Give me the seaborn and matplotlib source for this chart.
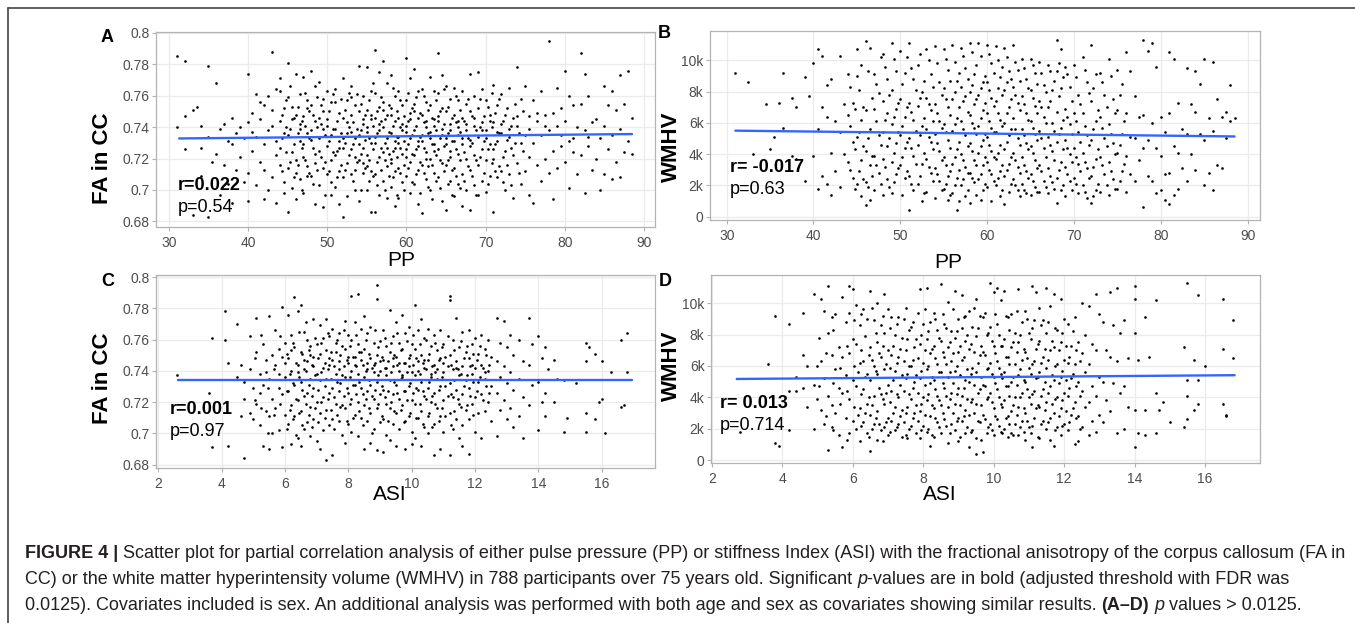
import matplotlib
matplotlib.use("Agg")
import matplotlib.pyplot as plt
from matplotlib.lines import Line2D
import pandas as pd
import seaborn as sns

# ---------------- data ----------------
# Panel A: FA in CC by pulse pressure (PP)
fa_a_by_pp = {
    31: [.740, .785], 32: [.782, .747, .726], 33: [.751, .684], 33.5: [.753],
    34: [.727, .709, .741], 35: [.779, .734, .683], 35.5: [.718],
    36: [.768, .723], 36.5: [.739, .697], 37: [.742, .716], 37.5: [.731, .704],
    38: [.746, .729, .692], 38.5: [.713, .736], 39: [.740, .721], 39.5: [.733, .705],
    40: [.774, .743, .711, .693], 40.5: [.737, .725, .749],
    41: [.761, .734, .703], 41.5: [.756, .718, .745],
    42: [.754, .713, .729, .694], 42.5: [.738, .700, .760],
    43: [.788, .741, .708, .751], 43.5: [.764, .722, .692, .731],
    44: [.763, .744, .716, .727, .771], 44.5: [.752, .736, .698, .705],
    45: [.781, .735, .714, .686, .759], 45.5: [.753, .724, .701, .745],
    46: [.774, .748, .719, .694, .711], 46.5: [.761, .742, .707, .731, .739],
    47: [.772, .747, .729, .698, .721], 47.5: [.757, .736, .715, .752, .709],
    48: [.776, .754, .738, .709, .732], 48.5: [.766, .744, .723, .691, .717],
    49: [.769, .746, .725, .703, .733], 49.5: [.758, .739, .714, .689, .750],
    50: [.763, .745, .728, .710, .741], 50.5: [.756, .735, .719, .697, .705],
    51: [.764, .739, .722, .702, .756], 51.5: [.749, .731, .712, .691, .727],
    52: [.771, .746, .727, .708, .683, .733], 52.5: [.757, .736, .717, .696, .743],
    53: [.766, .748, .726, .710, .737, .759], 53.5: [.754, .733, .721, .700, .713],
    54: [.779, .750, .735, .719, .693, .729], 54.5: [.760, .742, .727, .711, .745, .717],
    55: [.778, .751, .737, .722, .700, .740, .715], 55.5: [.763, .745, .730, .712, .686, .748],
    56: [.789, .762, .746, .730, .710, .686, .734], 56.5: [.775, .753, .738, .721, .697, .742],
    57: [.782, .756, .740, .724, .706, .751], 57.5: [.768, .748, .733, .715, .695, .727],
    58: [.773, .752, .736, .720, .702, .748, .717], 58.5: [.760, .744, .727, .712, .690, .731],
    59: [.763, .746, .730, .714, .695, .734], 59.5: [.754, .738, .723, .705, .742],
    60: [.784, .757, .741, .726, .709, .737, .721], 60.5: [.771, .749, .733, .718, .698, .745],
    61: [.777, .755, .738, .722, .704, .750], 61.5: [.763, .746, .731, .713, .691, .728],
    62: [.764, .748, .731, .716, .685, .735], 62.5: [.756, .740, .724, .707, .744, .720],
    63: [.772, .754, .737, .720, .700, .733], 63.5: [.763, .745, .729, .711, .741, .725],
    64: [.787, .762, .744, .726, .708, .747], 64.5: [.773, .752, .735, .717, .693, .739],
    65: [.766, .750, .733, .716, .687, .729], 65.5: [.758, .742, .725, .706, .738, .721],
    66: [.765, .748, .731, .714, .696], 66.5: [.757, .740, .723, .704, .744, .735],
    67: [.763, .746, .729, .710, .690, .733], 67.5: [.755, .738, .720, .700, .742],
    68: [.774, .750, .732, .713, .687, .728], 68.5: [.760, .741, .722, .703, .746],
    69: [.775, .752, .734, .716, .697], 69.5: [.764, .743, .726, .706, .738],
    70: [.757, .738, .719, .699, .733], 70.5: [.748, .729, .709, .744],
    71: [.767, .743, .720, .686, .726], 71.5: [.754, .731, .708, .737],
    72: [.761, .736, .712, .742], 72.5: [.748, .725, .700],
    73: [.765, .734, .710, .739], 73.5: [.746, .722, .695],
    74: [.778, .741, .717, .747], 74.5: [.758, .730, .704],
    75: [.766, .735, .712], 75.5: [.747, .721, .697, .739],
    76: [.757, .730, .692], 76.5: [.744, .716, .749],
    77: [.763, .735, .706], 77.5: [.748, .720, .741],
    78: [.795, .738, .711], 78.5: [.749, .725, .694],
    79: [.765, .741, .714], 79.5: [.752, .728, .735],
    80: [.776, .744, .718], 80.5: [.760, .731, .701],
    81: [.754, .724, .733], 81.5: [.740, .710],
    82: [.787, .755, .722], 82.5: [.774, .738, .698],
    83: [.760, .728, .734], 83.5: [.743, .713],
    84: [.745, .720], 84.5: [.733, .700],
    85: [.766, .741, .710], 85.5: [.754, .726],
    86: [.763, .735, .707], 86.5: [.751, .718],
    87: [.773, .739, .708], 87.5: [.755, .724],
    88: [.776, .731], 88.5: [.746, .723],
    44.25: [.748, .733, .712], 44.75: [.757, .724, .740],
    45.25: [.739, .718, .766], 45.75: [.746, .729, .708],
    46.25: [.753, .736, .716], 46.75: [.744, .727, .700],
    47.25: [.762, .741, .719], 47.75: [.733, .711, .750],
    48.25: [.748, .727, .704], 48.75: [.759, .740, .713],
    49.25: [.742, .721, .754], 49.75: [.735, .718, .697],
    50.25: [.750, .731, .712], 50.75: [.761, .739, .724],
    51.25: [.744, .725, .708], 51.75: [.758, .736, .716],
    52.25: [.751, .730, .713], 52.75: [.740, .722, .762],
    53.25: [.743, .729, .706], 53.75: [.761, .739, .718],
    54.25: [.755, .738, .723, .700], 54.75: [.748, .732, .714],
    55.25: [.757, .733, .719, .706], 55.75: [.741, .726, .709, .768],
    56.25: [.750, .736, .718, .703], 56.75: [.759, .744, .727, .713],
    57.25: [.745, .730, .719, .700], 57.75: [.754, .737, .723, .709],
    58.25: [.741, .725, .708, .765], 58.75: [.750, .734, .721, .697],
    59.25: [.757, .740, .727, .711], 59.75: [.747, .731, .716, .700],
    60.25: [.762, .744, .729, .714], 60.75: [.752, .735, .723, .705],
    61.25: [.741, .726, .710, .759], 61.75: [.749, .734, .718, .698],
    62.25: [.760, .743, .727, .711], 62.75: [.751, .736, .715, .702],
    63.25: [.746, .729, .716, .694], 63.75: [.757, .738, .722, .706],
    64.25: [.750, .733, .719, .701], 64.75: [.742, .728, .712, .764],
    65.25: [.753, .736, .719, .704], 65.75: [.746, .731, .713, .697],
    66.25: [.760, .743, .726, .709], 66.75: [.751, .737, .719, .701],
    67.25: [.744, .724, .706], 67.75: [.758, .733, .715],
    68.25: [.747, .730, .709], 68.75: [.738, .719, .697],
    69.25: [.758, .740, .721], 69.75: [.747, .731, .711],
    70.25: [.753, .726, .704], 70.75: [.740, .717, .762],
    71.25: [.749, .729, .712], 71.75: [.736, .715, .758],
    72.25: [.744, .721, .705], 72.75: [.752, .732, .716],
    73.25: [.741, .727, .703], 73.75: [.755, .730],
    74.25: [.736, .711], 74.75: [.750, .725],
}

# Panel B: WMHV by pulse pressure (PP)
wmhv_b_by_pp = {
    31: [9200], 32.5: [8600], 33: [4000], 34.5: [7200], 35: [4300], 35.5: [5100],
    36: [7300], 36.5: [9200, 5700], 37.5: [7600, 3900], 38: [7000, 3700],
    39: [8900, 2300], 39.5: [7700], 40: [9800, 3900], 40.5: [5600, 1800, 10700],
    41: [10300, 7000, 2600], 41.5: [8400, 6400, 2100], 42: [8800, 4100, 1400], 42.5: [6100, 2900],
    43: [10300, 5400, 1900], 43.5: [7200, 4000], 44: [9100, 6500, 3500], 44.5: [7300, 4800, 2500],
    45: [10700, 9000, 5100, 2100], 45.5: [9700, 6200, 3600, 1300],
    46: [11200, 6800, 4200, 2200, 750], 46.5: [10800, 5600, 3300, 1100],
    47: [9100, 6900, 3900, 1700], 47.5: [7900, 5200, 2800],
    48: [10400, 7400, 5400, 3700, 1400], 48.5: [8800, 6600, 4500, 2400],
    49: [11100, 8100, 5900, 3500, 1500], 49.5: [9300, 6900, 4700, 2700],
    50: [10600, 7500, 5200, 3300], 50.5: [9200, 6400, 4400, 2500],
    51: [11100, 7300, 5000, 2600, 400], 51.5: [8800, 6200, 3900, 1700],
    52: [9700, 7100, 4600, 2100], 52.5: [8000, 5800, 3400, 1000],
    53: [10700, 7600, 5600, 3700, 1600], 53.5: [9100, 6800, 4800, 2800],
    54: [10900, 7200, 5300, 3100, 1200], 54.5: [8600, 6100, 4200, 2300],
    55: [10700, 8200, 5900, 3800, 1800], 55.5: [9400, 7000, 4900, 2600, 1100],
    56: [11000, 7500, 5500, 3400, 1500], 56.5: [8700, 6300, 4300, 2500, 450],
    57: [10800, 8300, 6100, 4000, 2000], 57.5: [9500, 7700, 5200, 3200, 1300],
    58: [11100, 8000, 6500, 4700, 2800, 900], 58.5: [9100, 7200, 5700, 3600, 2200],
    59: [11100, 7800, 5800, 4100, 2400], 59.5: [8600, 6800, 4900, 3300, 1700],
    60: [11000, 8600, 6600, 5100, 3500, 1900], 60.5: [9800, 7600, 5700, 4200, 2700, 1000],
    61: [10900, 7400, 5400, 3700, 2000], 61.5: [8900, 6200, 4600, 2900, 1300],
    62: [10800, 8100, 6000, 4300, 2600, 800], 62.5: [9300, 7000, 5200, 3400, 1600],
    63: [11000, 8300, 6300, 4100, 2400], 63.5: [9400, 7300, 5000, 3200, 1700],
    64: [10100, 7700, 5600, 3800, 2100], 64.5: [8800, 6600, 4700, 2900, 1500],
    65: [10100, 8100, 6100, 4500, 2700, 1400], 65.5: [9200, 7100, 5300, 3600, 1900],
    66: [9900, 7400, 5500, 3300, 1600], 66.5: [8400, 6400, 4400, 2300],
    67: [9700, 7000, 5100, 3100, 1500], 67.5: [8100, 6000, 4200, 2200],
    68: [11300, 9300, 6700, 4800, 2500, 850], 68.5: [10700, 8200, 5700, 3500, 1700],
    69: [9600, 6900, 4900, 3200, 1300], 69.5: [8300, 5900, 4000, 2300],
    70: [9700, 6600, 4400, 2500], 70.5: [7800, 5400, 3400, 1500],
    71: [10200, 6600, 4100, 2000], 71.5: [8600, 5200, 3100, 1200],
    72: [11000, 7400, 4900, 2600, 900], 72.5: [9100, 6100, 3700, 1700],
    73: [9200, 6400, 3800, 1600], 73.5: [7800, 5000, 2700],
    74: [10100, 5900, 3500, 1400], 74.5: [7500, 4700, 2400],
    75: [9400, 6800, 4100, 1800], 75.5: [8500, 5300, 2900],
    76: [10500, 6600, 3900, 1600], 76.5: [9300, 5100, 2700],
    77: [7700, 5000, 2300], 77.5: [6400, 3600],
    78: [11300, 6500, 4400, 600], 78.5: [10600, 4900, 2600],
    79: [11100, 6000, 2300], 79.5: [9600, 4400, 1500],
    80: [6400, 3900, 1700], 80.5: [5400, 2700, 1100],
    81: [10500, 6600, 2800, 800], 81.5: [10100, 4500, 1400],
    82: [7300, 4100, 1800], 82.5: [5600, 3100],
    83: [9500, 5300, 2300], 83.5: [7200, 4000],
    84: [9300, 6700, 3000], 84.5: [8500, 5300],
    85: [10100, 4900, 2000], 85.5: [6300, 2800],
    86: [9900, 5500, 1700], 86.5: [7500, 3300],
    87: [6400, 3100], 87.5: [5000, 6700],
    88: [8400, 6100], 88.5: [6300],
    44.25: [8300, 5800, 3000], 44.75: [6900, 4300, 1800],
    45.25: [8100, 5400, 2900], 45.75: [7000, 4500, 2400],
    46.25: [9300, 5000, 1900], 46.75: [7600, 3900, 2600],
    47.25: [8500, 6100, 3300], 47.75: [10200, 4600, 2100],
    48.25: [9600, 6200, 3200], 48.75: [7800, 5000, 1900],
    49.25: [10100, 6400, 4100, 2200], 49.75: [7300, 5400, 3100],
    50.25: [8500, 5800, 3800, 1400], 50.75: [10200, 7000, 4800, 2900],
    51.25: [9500, 6700, 4400, 2100], 51.75: [8100, 5500, 3400],
    52.25: [10400, 7600, 5200, 2600], 52.75: [8700, 6300, 4100, 1500],
    53.25: [10000, 7200, 5100, 3200], 53.75: [8300, 6100, 4300, 2300],
    54.25: [9800, 6600, 4700, 2700], 54.75: [7800, 5700, 3600, 1700],
    55.25: [10100, 7500, 5400, 3300, 2100], 55.75: [8700, 6500, 4400, 2900, 1400],
    56.25: [9900, 8000, 5900, 3800, 2000], 56.75: [9200, 7000, 4800, 3000, 1000],
    57.25: [10300, 7400, 5600, 3600, 2400], 57.75: [8800, 6700, 4500, 2800, 1700],
    58.25: [10500, 8400, 6000, 4200, 2500], 58.75: [9700, 7500, 5300, 3300, 1400],
    59.25: [10300, 8200, 6300, 4500, 2700, 1100], 59.75: [9000, 7300, 5300, 3800, 2100],
    60.25: [10400, 8100, 6100, 4600, 3000], 60.75: [9200, 7100, 5400, 3800, 2300],
    61.25: [10000, 8200, 6600, 4100, 2500], 61.75: [9600, 7800, 5800, 3300, 1700],
    62.25: [10200, 8600, 6600, 4800, 3000], 62.75: [8800, 7500, 5600, 3800, 2100],
    63.25: [9900, 7800, 5600, 3600, 2000], 63.75: [8700, 6800, 4600, 2800, 1300],
    64.25: [9500, 7200, 5200, 3300, 1700], 64.75: [8200, 6200, 4300, 2500],
    65.25: [9700, 7600, 5700, 4100, 2300], 65.75: [8500, 6600, 4900, 3100, 1600],
    66.25: [9200, 7000, 5000, 2900], 66.75: [8000, 6000, 3800, 1900],
    67.25: [9300, 7400, 4600, 2600], 67.75: [8700, 5500, 3600, 1800],
    68.25: [9800, 7700, 5300, 3000], 68.75: [8900, 6200, 4300, 2000],
    69.25: [9100, 6400, 4400, 2700], 69.75: [7400, 5300, 3500, 1700],
    70.25: [8900, 6100, 3800, 2100], 70.75: [7200, 4800, 2900],
    71.25: [9400, 5800, 3500, 1600], 71.75: [7900, 4600, 2500],
    72.25: [8200, 5600, 3200, 1300], 72.75: [6800, 4300, 2100],
    73.25: [8600, 5700, 3300], 73.75: [7000, 4500, 2000],
    74.25: [9000, 5300, 2900], 74.75: [6600, 4000, 1800],
    75.25: [7800, 4600, 2300], 75.75: [6100, 3400],
}

# Panel C: FA in CC by stiffness index (ASI)
fa_c_by_asi = {
    2.6: [.737], 3.6: [.726], 3.7: [.761, .691], 4.1: [.778, .760], 4.2: [.692, .745],
    4.5: [.770, .736], 4.6: [.744, .711], 4.7: [.733, .684, .722], 4.9: [.762, .713, .741],
    5.0: [.709, .729], 5.1: [.774, .752, .719], 5.2: [.726, .705, .738], 5.3: [.757, .731, .692],
    5.4: [.739, .714, .747], 5.5: [.775, .735, .711, .690], 5.6: [.750, .722, .700],
    5.7: [.766, .744, .716], 5.8: [.754, .729, .702, .738], 5.9: [.781, .749, .725, .691],
    6.0: [.758, .736, .712, .745], 6.1: [.776, .748, .727, .706], 6.2: [.763, .740, .718, .693, .753],
    6.3: [.787, .755, .731, .711], 6.4: [.778, .744, .721, .697, .739], 6.5: [.782, .752, .733, .714, .692],
    6.6: [.765, .741, .724, .703, .747], 6.7: [.760, .746, .726, .707], 6.8: [.750, .735, .717, .698, .756],
    6.9: [.773, .749, .729, .709, .743], 7.0: [.757, .738, .720, .695], 7.1: [.769, .751, .734, .713, .690],
    7.2: [.761, .742, .723, .702], 7.3: [.773, .753, .735, .715, .683], 7.4: [.762, .744, .726, .705, .748],
    7.5: [.767, .747, .729, .709, .686], 7.6: [.758, .738, .719, .752], 7.7: [.764, .746, .727, .708, .741],
    7.8: [.756, .737, .718, .699], 7.9: [.772, .754, .736, .716, .694], 8.0: [.763, .745, .726, .706, .749],
    8.1: [.788, .760, .740, .722, .701], 8.2: [.771, .749, .731, .712, .744], 8.3: [.789, .757, .738, .720, .698],
    8.4: [.767, .747, .729, .710, .752], 8.5: [.775, .754, .736, .718, .690], 8.6: [.764, .745, .727, .708, .741],
    8.7: [.768, .748, .731, .713, .694], 8.8: [.758, .739, .722, .703, .744],
    8.9: [.795, .786, .750, .733, .716, .689], 9.0: [.759, .740, .725, .707, .746],
    9.1: [.766, .747, .728, .709, .688], 9.2: [.756, .737, .719, .699, .742], 9.3: [.779, .752, .734, .716, .696],
    9.4: [.762, .743, .725, .706, .748], 9.5: [.771, .749, .731, .713, .692], 9.6: [.758, .740, .722, .703, .745],
    9.7: [.776, .754, .736, .718, .737], 9.8: [.764, .745, .727, .708, .690], 9.9: [.768, .748, .730, .711, .743],
    10.0: [.757, .739, .721, .701, .693], 10.1: [.782, .754, .737, .719, .697], 10.2: [.766, .746, .728, .710, .740],
    10.3: [.773, .750, .733, .714, .692], 10.4: [.761, .742, .724, .704, .747], 10.5: [.767, .747, .729, .711, .700],
    10.6: [.756, .738, .720, .736], 10.7: [.763, .744, .726, .706, .686], 10.8: [.753, .735, .716, .741],
    10.9: [.766, .748, .730, .711, .690], 11.0: [.757, .739, .721, .701, .745],
    11.2: [.788, .785, .750, .732, .713, .686], 11.3: [.760, .741, .723, .703], 11.4: [.774, .746, .728, .709, .742],
    11.5: [.755, .737, .719, .697], 11.6: [.765, .743, .725, .705, .692], 11.7: [.752, .734, .715],
    11.8: [.766, .748, .729, .709, .687], 11.9: [.757, .738, .719, .744], 12.0: [.761, .742, .723, .701],
    12.1: [.751, .733, .713], 12.2: [.763, .744, .725, .697], 12.3: [.754, .735, .714, .739],
    12.4: [.760, .740, .720], 12.5: [.749, .730, .708], 12.7: [.774, .746, .726, .698],
    12.8: [.758, .736, .715], 12.9: [.772, .743, .721], 13.0: [.755, .732, .709], 13.1: [.763, .739, .716],
    13.2: [.750, .728, .704], 13.4: [.760, .735, .711], 13.5: [.746, .723, .697], 13.7: [.774, .744, .718],
    13.8: [.757, .731], 14.0: [.762, .733, .702], 14.1: [.748, .720], 14.2: [.755, .726, .711],
    14.3: [.741], 14.5: [.747, .720], 14.6: [.735], 14.8: [.734, .701], 14.9: [.710], 15.2: [.732],
    15.5: [.758, .746, .713, .701], 15.6: [.755], 15.8: [.751, .709], 15.9: [.720], 16.0: [.746, .722],
    16.1: [.700], 16.3: [.739], 16.6: [.760, .717], 16.7: [.718], 16.8: [.764, .739],
    5.05: [.748, .721], 5.25: [.763, .716], 5.45: [.729, .700], 5.65: [.741, .712], 5.85: [.762, .719],
    6.05: [.751, .727, .703], 6.15: [.738, .715], 6.25: [.758, .732, .709], 6.35: [.745, .722, .699],
    6.45: [.765, .736, .713], 6.55: [.751, .728, .705], 6.65: [.771, .740, .719], 6.75: [.753, .731, .712],
    6.85: [.744, .724, .704], 6.95: [.761, .737, .716], 7.05: [.748, .728, .707], 7.15: [.758, .739, .720],
    7.25: [.745, .730, .710], 7.35: [.764, .741, .722], 7.45: [.752, .735, .715], 7.55: [.743, .723, .703],
    7.65: [.760, .733, .712], 7.75: [.750, .732, .717], 7.85: [.766, .743, .724], 7.95: [.747, .729, .708],
    8.05: [.756, .736, .719], 8.15: [.749, .731, .710], 8.25: [.763, .743, .725], 8.35: [.752, .733, .714],
    8.45: [.744, .725, .705], 8.55: [.760, .740, .722], 8.65: [.751, .734, .716], 8.75: [.742, .724, .700],
    8.85: [.766, .745, .728], 8.95: [.755, .737, .719], 9.05: [.749, .730, .711], 9.15: [.761, .742, .723],
    9.25: [.746, .727, .708], 9.35: [.758, .739, .720], 9.45: [.750, .733, .714], 9.55: [.764, .744, .726],
    9.65: [.753, .735, .715], 9.75: [.745, .727, .707], 9.85: [.759, .739, .721], 9.95: [.750, .732, .713],
    10.05: [.763, .744, .726], 10.15: [.748, .729, .710], 10.25: [.757, .738, .719], 10.35: [.745, .727, .706],
    10.45: [.760, .741, .722], 10.55: [.751, .733, .713], 10.65: [.743, .724, .704], 10.75: [.758, .739, .719],
    10.85: [.747, .728, .708], 10.95: [.755, .736, .716], 11.05: [.749, .730, .711], 11.15: [.762, .743, .724],
    11.25: [.744, .725, .705], 11.35: [.753, .734, .714], 11.45: [.741, .722], 11.55: [.759, .738, .717],
    11.65: [.748, .730], 11.75: [.756, .737, .718], 11.85: [.743, .724], 11.95: [.751, .733, .712],
    12.05: [.747, .727], 12.15: [.756, .736], 12.25: [.742, .721], 12.35: [.750, .730], 12.45: [.744, .726],
}

# Panel D: WMHV by stiffness index (ASI)
wmhv_d_by_asi = {
    2.8: [1800], 3.6: [6100], 3.8: [9200, 1100], 3.9: [900], 4.2: [8700, 4400, 1900],
    4.4: [4400, 5300], 4.6: [9400, 6700, 4600], 4.7: [6000, 3400], 4.9: [10600, 4800, 2000],
    5.0: [6000, 3900], 5.1: [10300, 6300, 3200], 5.2: [9500, 5200, 2300], 5.3: [11100, 8100, 4100, 650],
    5.4: [9100, 6700, 3500, 2100], 5.5: [9300, 5800, 3000], 5.6: [7200, 4600, 1600],
    5.7: [10400, 6600, 4300, 800], 5.8: [8800, 5400, 2700], 5.9: [11100, 9400, 6800, 3900, 1700],
    6.0: [10900, 7700, 5100, 2500], 6.1: [9900, 7400, 4700, 2000], 6.2: [8600, 6200, 3300, 1200],
    6.3: [9600, 6300, 4500, 2400], 6.4: [9000, 5500, 3600, 1700], 6.5: [10800, 7200, 5100, 2900, 550],
    6.6: [8900, 6000, 4100, 2300], 6.7: [10000, 7500, 5500, 3100, 1300], 6.8: [8600, 6600, 4200, 1900],
    6.9: [10600, 8100, 5800, 3600, 2100], 7.0: [9600, 7000, 4800, 2700, 1600], 7.1: [9100, 6700, 4400, 2500],
    7.2: [8000, 5700, 3400, 1900], 7.3: [9100, 6600, 4000, 2300], 7.4: [7800, 5400, 3200, 1500],
    7.5: [9700, 7000, 5200, 3000, 1600], 7.6: [8300, 6000, 4200, 2000], 7.7: [8800, 6400, 4600, 2700],
    7.8: [7700, 5400, 3500, 1700], 7.9: [10900, 7400, 5200, 3100, 1400], 8.0: [8700, 6200, 4000, 2200],
    8.1: [11000, 7700, 5800, 3800, 1800], 8.2: [8800, 6800, 4900, 2800, 900], 8.3: [9400, 7300, 5100, 3300, 1500],
    8.4: [8300, 6100, 4100, 2400], 8.5: [11200, 7600, 5600, 3500, 1700], 8.6: [8700, 6600, 4600, 2600],
    8.7: [10100, 7200, 5300, 3400, 1100], 8.8: [8200, 6300, 4300, 2300], 8.9: [10800, 7800, 5700, 3600, 1900],
    9.0: [9000, 6900, 4600, 2700, 1200], 9.1: [10500, 8400, 6400, 4100, 2500], 9.2: [9200, 7600, 5100, 3200, 1700],
    9.3: [9500, 7100, 5000, 2900, 800], 9.4: [8500, 5900, 3900, 1900], 9.5: [10300, 7900, 5600, 3600, 1400, 400],
    9.6: [9200, 6700, 4500, 2400], 9.7: [9100, 6900, 4800, 2900, 500], 9.8: [8000, 5800, 3900, 1700],
    9.9: [11300, 8500, 6200, 4300, 2300], 10.0: [10700, 7300, 5300, 3300, 1600], 10.1: [11000, 8700, 6300, 4500, 2600],
    10.2: [10200, 7300, 5500, 3600, 1800], 10.3: [10800, 7700, 5600, 3800, 2000], 10.4: [9100, 6600, 4700, 2800, 1500],
    10.5: [9300, 7200, 5000, 3100, 1700], 10.6: [8100, 6100, 4000, 2300], 10.7: [10900, 7500, 5400, 3400, 1600],
    10.8: [8800, 6400, 4300, 2500], 10.9: [9500, 6900, 5000, 3000, 1300], 11.0: [8100, 5900, 4000, 2100],
    11.1: [11100, 8400, 6100, 4200, 2200, 800], 11.2: [10700, 7100, 5200, 3300], 11.3: [9700, 7600, 5600, 3400, 1400],
    11.4: [8900, 6600, 4500, 2500], 11.5: [11000, 8100, 5900, 3700, 2000], 11.6: [9800, 7000, 4700, 2700, 1300],
    11.7: [10600, 7200, 5100, 3000, 900], 11.8: [8300, 6100, 4000, 2100], 11.9: [10300, 7500, 5300, 3300, 1600],
    12.0: [9000, 6400, 4300, 2300], 12.1: [8700, 6200, 4100, 1900], 12.2: [7300, 5200, 2900],
    12.3: [9100, 6100, 3700, 1000], 12.4: [7500, 5000, 2800, 1200], 12.5: [10000, 6800, 4400, 2100],
    12.6: [8000, 5600, 3400], 12.7: [9800, 6100, 3700, 1600], 12.8: [7400, 4700, 2500],
    12.9: [10600, 7000, 4100, 1800], 13.0: [9300, 5300, 2900], 13.1: [8800, 5000, 2400], 13.2: [7000, 3800],
    13.3: [10700, 6600, 3100], 13.4: [8600, 4900], 13.5: [11000, 6300, 1700], 13.6: [8100, 4300],
    13.7: [8900, 4700, 2000], 13.8: [6500, 3400], 14.0: [11100, 10300, 8100, 3200, 800], 14.1: [6400, 1700],
    14.3: [9100, 3200, 1600], 14.4: [6600], 14.6: [10200, 4300, 1700], 14.7: [3200], 14.8: [3700],
    15.0: [2400], 15.4: [7200, 2100], 15.5: [11300, 5100, 4100, 2600], 15.7: [6400, 3200],
    15.8: [10500, 5100, 3600], 16.0: [6000], 16.5: [10300, 7100, 3600], 16.6: [2900, 2800], 16.8: [8900, 6500],
    5.05: [7800, 4700], 5.25: [6800, 2800], 5.45: [8300, 4900, 1900], 5.65: [5900, 3600],
    5.85: [7300, 4400, 1300], 6.05: [8900, 6000, 3400], 6.15: [5600, 2900], 6.25: [9300, 7000, 4200, 2200],
    6.35: [7900, 5300, 3000], 6.45: [6700, 4000, 1500], 6.55: [9700, 6400, 3500, 2000], 6.65: [8100, 5700, 2700],
    6.75: [6800, 4600, 2300], 6.85: [9200, 7300, 3900, 1200], 6.95: [6100, 4300, 2400],
    7.05: [8400, 5900, 3700, 1800], 7.15: [7300, 5100, 3000], 7.25: [8700, 6200, 4200, 2100],
    7.35: [7100, 4800, 2800], 7.45: [9000, 6300, 4400, 2400], 7.55: [7700, 5500, 3400, 1400],
    7.65: [8500, 6000, 3900, 2200], 7.75: [7200, 5000, 3000], 7.85: [9400, 6500, 4300, 2500],
    7.95: [8000, 5700, 3600, 1900], 8.05: [9600, 7000, 4800, 2900], 8.15: [8200, 6000, 4200, 2000],
    8.25: [7100, 5300, 3500, 1600], 8.35: [9000, 6500, 4500, 2700], 8.45: [7800, 5600, 3800, 2100],
    8.55: [9300, 6900, 4900, 3000], 8.65: [8400, 6100, 4100, 2200], 8.75: [7500, 5600, 3900, 1700],
    8.85: [9600, 6800, 4900, 3000], 8.95: [8200, 6000, 4200, 2500], 9.05: [7300, 5400, 3500, 1500],
    9.15: [9100, 6600, 4600, 2800], 9.25: [8000, 5800, 3900, 2100], 9.35: [7400, 5500, 3700, 1800],
    9.45: [9700, 6900, 4800, 3000], 9.55: [8400, 6200, 4300, 2500], 9.65: [7300, 5300, 3500, 1300],
    9.75: [9400, 6700, 4700, 2600], 9.85: [8100, 5900, 4000, 2100], 9.95: [7600, 5500, 3700, 1900],
    10.05: [9300, 6800, 4900, 2800], 10.15: [8000, 5900, 4000, 2200], 10.25: [7300, 5200, 3400, 1700],
    10.35: [9200, 6600, 4700, 2700], 10.45: [8300, 6100, 4100, 2300], 10.55: [7500, 5300, 3500, 1600],
    10.65: [9500, 6900, 4800, 2900], 10.75: [8000, 5800, 4000, 2100], 10.85: [7100, 5100, 3300, 1800],
    10.95: [9000, 6500, 4500, 2500], 11.05: [7700, 5500, 3600, 1700], 11.15: [8900, 6300, 4400, 2700],
    11.25: [7400, 5300, 3500, 1500], 11.35: [8600, 6200, 4100, 2300], 11.45: [7100, 5000, 3200],
    11.55: [8800, 6400, 4300, 2400], 11.65: [7600, 5400, 3600], 11.75: [8400, 6000, 3900, 1900],
    11.85: [7000, 4900, 2800], 11.95: [8100, 5700, 3800, 2200], 12.05: [7300, 5100, 3100],
    12.15: [6600, 4600, 2400], 12.25: [8200, 5500, 3300], 12.35: [7000, 4700, 2700], 12.45: [6300, 4100, 2000],
}

# fitted lines (end points)
fit_a_x, fit_a_y = [31.3, 88.5], [0.7328, 0.7356]
fit_b_x, fit_b_y = [31.0, 88.5], [5500, 5130]
fit_c_x, fit_c_y = [2.63, 16.96], [0.7342, 0.7342]
fit_d_x, fit_d_y = [2.71, 16.84], [5170, 5410]

pp_ticks = [30, 40, 50, 60, 70, 80, 90]
asi_ticks = [2, 4, 6, 8, 10, 12, 14, 16]
fa_ticks = [0.68, 0.70, 0.72, 0.74, 0.76, 0.78, 0.80]
fa_ticklabels = ["0.68", "0.7", "0.72", "0.74", "0.76", "0.78", "0.8"]
wmhv_ticks = [0, 2000, 4000, 6000, 8000, 10000]
wmhv_ticklabels = ["0", "2k", "4k", "6k", "8k", "10k"]

stats = [("r=0.022", "p=0.54"), ("r= -0.017", "p=0.63"),
         ("r=0.001", "p=0.97"), ("r= 0.013", "p=0.714")]


def expand(d, xname, yname):
    xs, ys = [], []
    for k, vals in d.items():
        xs += [k] * len(vals)
        ys += list(vals)
    return pd.DataFrame({xname: xs, yname: ys})


# ---------------- figure ----------------
sns.set_theme(style="white")
plt.rcParams['font.family'] = ['Liberation Sans', 'DejaVu Sans']

W, H = 1355, 623
fig = plt.figure(figsize=(W / 100, H / 100), dpi=100)


def rect(l, t, r, b):
    return [l / W, 1 - b / H, (r - l) / W, (b - t) / H]


def fx(x):
    return x / W


def fy(y):
    return 1 - y / H


GRID = '#ebebeb'
BORDER = '#b3b3b3'
TICKLAB = '#4d4d4d'


def panel(r, df, xcol, ycol, fitx, fity, xlim, ylim, xticks, yticks, yticklabels):
    ax = fig.add_axes(r)
    sns.scatterplot(data=df, x=xcol, y=ycol, ax=ax, s=3.6, color='black',
                    linewidth=0, legend=False, zorder=3)
    sns.lineplot(x=fitx, y=fity, ax=ax, color='#3366FF', linewidth=1.7, zorder=4)
    ax.set_xlim(*xlim)
    ax.set_ylim(*ylim)
    ax.set_xticks(xticks)
    ax.set_xticklabels([str(t) for t in xticks])
    ax.set_yticks(yticks)
    ax.set_yticklabels(yticklabels)
    ax.grid(True, color=GRID, linewidth=0.9)
    ax.set_axisbelow(True)
    for s in ax.spines.values():
        s.set_color(BORDER)
        s.set_linewidth(0.9)
    ax.tick_params(axis='both', length=2.6, width=0.8, color=BORDER,
                   labelsize=10, labelcolor=TICKLAB, bottom=True, left=True)
    ax.tick_params(axis='x', pad=4)
    ax.tick_params(axis='y', pad=2)
    ax.set_xlabel('')
    ax.set_ylabel('')
    return ax


df_a = expand(fa_a_by_pp, 'PP', 'FA')
df_b = expand(wmhv_b_by_pp, 'PP', 'WMHV')
df_c = expand(fa_c_by_asi, 'ASI', 'FA')
df_d = expand(wmhv_d_by_asi, 'ASI', 'WMHV')

panel(rect(156, 32, 655, 227), df_a, 'PP', 'FA', fit_a_x, fit_a_y,
      (28.37, 91.4), (0.6764, 0.8006), pp_ticks, fa_ticks, fa_ticklabels)
panel(rect(710, 31, 1260, 220), df_b, 'PP', 'WMHV', fit_b_x, fit_b_y,
      (28.08, 91.43), (-210, 11870), pp_ticks, wmhv_ticks, wmhv_ticklabels)
panel(rect(156, 275, 655, 468), df_c, 'ASI', 'FA', fit_c_x, fit_c_y,
      (1.93, 17.68), (0.6778, 0.8013), asi_ticks, fa_ticks, fa_ticklabels)
panel(rect(711, 275, 1260, 463), df_d, 'ASI', 'WMHV', fit_d_x, fit_d_y,
      (1.98, 17.56), (-190, 11800), asi_ticks, wmhv_ticks, wmhv_ticklabels)

# axis titles
for x, y, s in [(103, 158, 'FA in CC'), (671, 147, 'WMHV'),
                (103, 378, 'FA in CC'), (671, 366, 'WMHV')]:
    fig.text(fx(x), fy(y), s, rotation=90, ha='center', va='center',
             fontsize=16, fontweight='bold', color='black')
for x, y, s in [(401, 260, 'PP'), (948, 262, 'PP'), (390, 494, 'ASI'), (940, 494, 'ASI')]:
    fig.text(fx(x), fy(y), s, ha='center', va='center', fontsize=15, color='black')

# panel letters
for x, y, s in [(107, 38, 'A'), (664, 34, 'B'), (108, 281, 'C'), (665, 281, 'D')]:
    fig.text(fx(x), fy(y), s, ha='center', va='center', fontsize=13,
             fontweight='bold', color='black')

# r / p annotations
for (x, yr, yp), (rs, ps) in zip([(178, 185, 207), (730, 168, 190),
                                   (170, 410, 432), (720, 404, 425)], stats):
    fig.text(fx(x), fy(yr), rs, ha='left', va='center', fontsize=13,
             fontweight='bold', color='black')
    fig.text(fx(x), fy(yp), ps, ha='left', va='center', fontsize=13, color='black')

# frame lines of the figure box
fig.add_artist(Line2D([fx(8), 1], [fy(8), fy(8)], transform=fig.transFigure,
                      color='#444444', linewidth=1.2))
fig.add_artist(Line2D([fx(8), fx(8)], [fy(8), 0], transform=fig.transFigure,
                      color='#444444', linewidth=1.2))

# caption
cap_lines = [
    [("FIGURE 4 |", 'bold', 'normal'),
     (" Scatter plot for partial correlation analysis of either pulse pressure (PP) or stiffness Index (ASI) with the fractional anisotropy of the corpus callosum (FA in", 'normal', 'normal')],
    [("CC) or the white matter hyperintensity volume (WMHV) in 788 participants over 75 years old. Significant ", 'normal', 'normal'),
     ("p", 'normal', 'italic'),
     ("-values are in bold (adjusted threshold with FDR was", 'normal', 'normal')],
    [("0.0125). Covariates included is sex. An additional analysis was performed with both age and sex as covariates showing similar results. ", 'normal', 'normal'),
     ("(A\u2013D)", 'bold', 'normal'), (" ", 'normal', 'normal'),
     ("p", 'normal', 'italic'), (" values > 0.0125.", 'normal', 'normal')],
]
cap_y = [554, 579, 605]
renderer = fig.canvas.get_renderer()

# fit font size to measured width of the first line
base = 11.0
tmp_x = 25
for s, wgt, sty in cap_lines[0]:
    t = fig.text(fx(tmp_x), fy(cap_y[0]), s, fontsize=base, fontweight=wgt, fontstyle=sty)
    tmp_x = t.get_window_extent(renderer).x1
    t.remove()
cap_fs = base * (1338 - 25) / (tmp_x - 25)

for line, y in zip(cap_lines, cap_y):
    x = 25
    for s, wgt, sty in line:
        t = fig.text(fx(x), fy(y), s, fontsize=cap_fs, fontweight=wgt, fontstyle=sty,
                     ha='left', va='center', color='#231f20')
        x = t.get_window_extent(renderer).x1

fig.savefig('out.png', dpi=100)
